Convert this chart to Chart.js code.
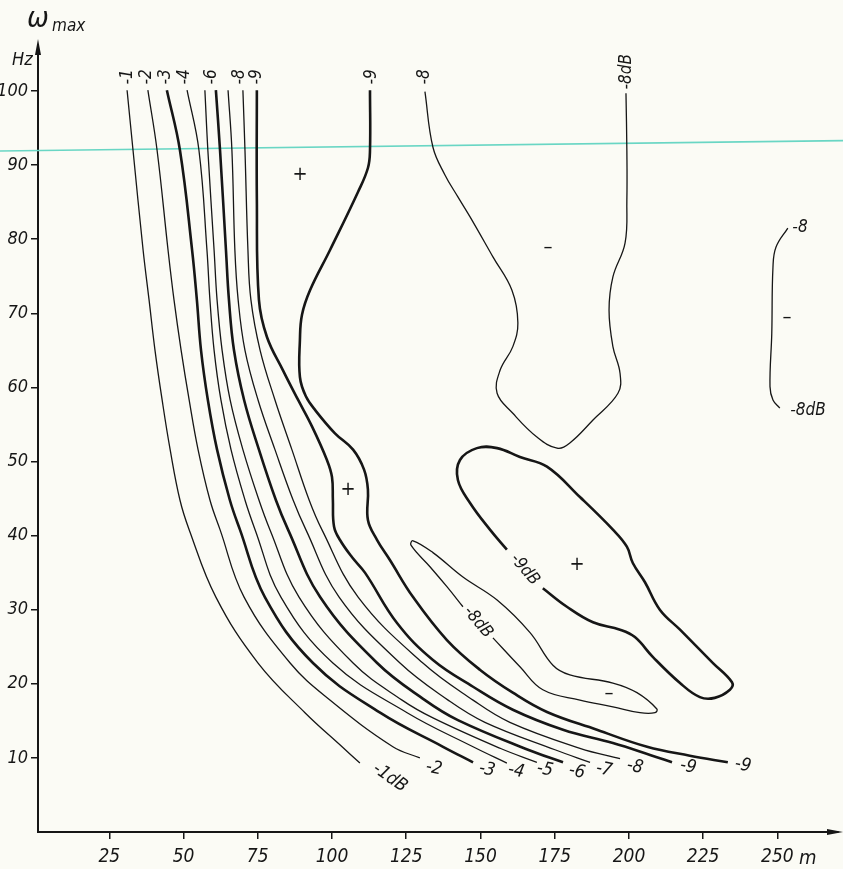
<!DOCTYPE html>
<html>
<head>
<meta charset="utf-8">
<title>omega max contours</title>
<script src="https://cdn.jsdelivr.net/npm/chart.js@4.4.1/dist/chart.umd.min.js"></script>
<style>
    html, body { margin: 0; padding: 0; background: #fbfbf5; }
    #wrap { width: 843px; height: 869px; }
</style>
</head>
<body>
<div id="wrap"><canvas id="contourChart" width="843" height="869"></canvas></div>
<script>
// axis ticks (x = distance in m, y = omega max in Hz)
const xTicks = [25, 50, 75, 100, 125, 150, 175, 200, 225, 250];
const yTicks = [10, 20, 30, 40, 50, 60, 70, 80, 90, 100];

// contour lines, [m, Hz] pairs
const line1 = [[31.0,100.1],[33.0,92.0],[36.4,78.5],[38.4,71.8],[40.4,65.0],[42.8,58.3],[45.5,51.6],[48.8,44.8],[51.9,40.8],[60.9,31.7],[75.1,22.8],[90.9,16.1],[103.4,11.5],[109.4,9.3]];
const line2 = [[38.0,100.1],[41.1,92.0],[44.8,78.5],[46.8,71.8],[49.2,65.0],[51.9,58.3],[54.9,51.6],[58.9,44.8],[62.3,40.8],[70.4,31.7],[85.9,22.8],[99.3,17.8],[120.5,11.5],[129.6,10.0]];
const line3 = [[44.4,100.1],[48.8,92.0],[52.9,78.5],[54.5,71.8],[55.9,65.0],[58.2,58.3],[61.3,51.6],[65.6,44.8],[69.0,40.8],[77.4,31.7],[93.6,22.8],[116.2,16.1],[137.4,11.5],[147.5,9.4]];
const line4 = [[51.2,100.1],[55.2,92.0],[57.9,78.5],[58.9,71.8],[60.3,65.0],[62.6,58.3],[66.0,51.6],[70.7,44.8],[74.1,40.8],[82.8,31.7],[100.3,22.8],[125.3,16.1],[147.5,11.5],[158.9,9.3]];
const line5 = [[57.2,100.1],[58.2,92.0],[60.3,78.5],[61.3,71.8],[63.0,65.0],[65.7,58.3],[70.0,51.6],[75.4,44.8],[79.1,40.8],[88.9,31.7],[107.1,22.8],[123.6,17.8],[134.0,15.4],[156.6,11.3],[169.0,9.4]];
const line6 = [[60.9,100.1],[62.3,92.0],[64.3,78.5],[65.3,71.8],[67.0,65.0],[70.4,58.3],[75.4,51.6],[81.1,44.8],[85.2,40.8],[96.0,31.7],[115.2,22.8],[131.3,17.8],[142.4,15.1],[166.0,11.1],[177.8,9.4]];
const line7 = [[65.0,100.1],[66.3,92.0],[67.3,78.5],[68.4,71.8],[70.7,65.0],[75.1,58.3],[80.8,51.6],[86.9,44.8],[91.2,40.8],[102.4,31.7],[122.9,22.8],[139.1,17.8],[151.5,14.8],[175.1,11.1],[186.9,9.4]];
const line8 = [[70.0,100.1],[70.7,92.0],[71.7,78.5],[72.7,71.8],[75.8,65.0],[80.8,58.3],[86.5,51.6],[92.3,44.8],[96.6,40.8],[108.8,31.7],[130.6,22.8],[147.5,17.8],[159.9,14.8],[183.5,11.3],[197.0,9.9]];
const line9a = [[74.7,100.1],[74.7,85.3],[75.4,71.8],[78.1,66.8],[83.5,62.3],[88.6,58.3],[93.3,54.7],[98.3,50.2],[100.0,47.9],[100.3,44.8],[100.7,41.2],[102.7,39.4],[106.7,37.1],[111.1,35.0],[121.9,28.2],[134.0,23.2],[147.5,19.6],[160.9,16.5],[177.8,13.8],[194.6,12.0],[207.1,10.4],[214.5,9.4]];
const line9b = [[112.8,100.1],[112.8,92.0],[112.1,89.6],[108.8,86.4],[99.3,78.5],[92.6,73.1],[89.9,69.8],[89.2,66.4],[89.2,61.4],[91.2,58.8],[94.6,56.8],[101.0,53.8],[107.1,51.6],[110.8,48.9],[112.1,46.2],[112.1,42.1],[115.2,39.4],[119.5,36.7],[127.3,31.7],[138.7,25.9],[149.8,21.9],[160.9,18.8],[172.4,16.2],[189.2,13.8],[206.1,11.5],[220.5,10.3],[233.3,9.4]];
const minus8Upper = [[131.3,99.9],[134.0,92.4],[138.0,88.7],[142.4,85.7],[146.5,83.0],[154.2,77.6],[160.6,73.1],[162.6,68.7],[160.9,65.5],[156.6,62.3],[155.6,59.2],[160.9,56.5],[169.0,53.3],[175.8,51.8],[180.1,52.5],[187.9,55.6],[196.3,59.2],[197.0,61.9],[194.6,65.5],[193.3,70.4],[194.6,74.9],[198.7,79.5],[199.3,85.3],[199.3,92.0],[199.0,99.7]];
const minus9Island = [[171.0,32.9],[179.1,30.4],[187.9,28.3],[197.0,27.3],[202.0,26.3],[208.1,23.6],[217.2,20.1],[223.9,18.2],[228.9,18.1],[234.0,19.2],[234.7,20.2],[228.3,22.8],[217.2,27.3],[210.4,30.0],[205.4,33.7],[201.3,36.3],[199.3,38.5],[194.6,40.8],[183.5,45.2],[172.4,49.3],[163.3,50.6],[155.6,51.8],[148.8,51.8],[143.1,50.2],[142.4,47.5],[146.5,44.4],[153.2,40.8],[158.9,38.1]];
const minus8Island = [[154.2,26.2],[163.3,22.3],[171.0,19.2],[183.5,17.8],[194.6,16.9],[203.7,16.1],[208.8,16.1],[209.4,16.6],[202.7,18.8],[194.6,20.1],[180.1,21.2],[174.4,22.5],[166.7,26.9],[155.6,31.3],[144.1,34.4],[134.0,37.7],[127.3,39.3],[126.6,38.7],[133.0,35.8],[138.7,33.1],[144.1,30.4]];
const minus8Right = [[253.5,81.5],[249.5,78.9],[248.5,76.2],[248.1,67.3],[247.5,60.1],[248.5,58.3],[250.8,57.2]];
// the green pen stroke across the scan
const penStroke = [[-11.8,91.9],[272.1,93.3]];

// labels written on the drawing: [text, m, Hz]
const topLabels = [['-1',31.0,101.9],['-2',37.7,101.9],['-3',44.1,101.9],['-4',50.2,101.9],['-6',59.6,101.9],['-8',69.0,101.9],['-9',74.7,101.9],['-9',113.5,101.9],['-8',131.3,101.9],['-8dB',199.3,102.6]];
const endLabels = [['-1dB',119.5,7.3],['-2',134.3,8.6],['-3',152.2,8.4],['-4',162.0,8.2],['-5',171.7,8.4],['-6',182.5,8.1],['-7',191.6,8.4],['-8',202.0,8.8],['-9',219.9,8.8],['-9',238.4,9.0]];
const islandLabels = [['-9dB',164.9,35.4],['-8dB',149.2,28.3]];
const sideLabels = [['-8',257.6,81.5],['-8dB',260.3,56.9]];
const signs = [['+',89.2,88.7],['\u2013',172.7,78.8],['+',105.4,46.2],['+',182.5,36.0],['\u2013',193.3,18.6],['\u2013',253.2,69.4]];

const ink = '#161616';
const thin = 1.3;
const thick = 2.6;
const italicFont = "'Liberation Sans Narrow', 'DejaVu Sans Condensed', 'Liberation Sans', sans-serif";

function toPoints(arr) {
    return arr.map(p => ({ x: p[0], y: p[1] }));
}

function contour(arr, width) {
    return {
        data: toPoints(arr),
        showLine: true,
        borderColor: ink,
        borderWidth: width,
        pointRadius: 0,
        tension: 0.4,
        fill: false
    };
}

const datasets = [
    contour(line1, thin),
    contour(line2, thin),
    contour(line3, thick),
    contour(line4, thin),
    contour(line5, thin),
    contour(line6, thick),
    contour(line7, thin),
    contour(line8, thin),
    contour(line9a, thick),
    contour(line9b, thick),
    contour(minus8Upper, thin),
    contour(minus9Island, thick),
    contour(minus8Island, thin),
    contour(minus8Right, thin),
    {
        data: toPoints(penStroke),
        showLine: true,
        borderColor: 'rgb(105, 214, 196)',
        borderWidth: 1.6,
        pointRadius: 0,
        clip: false
    }
];

function drawText(ctx, text, x, y, angle, font) {
    ctx.save();
    ctx.translate(x, y);
    ctx.rotate(angle * Math.PI / 180);
    ctx.font = font;
    ctx.textAlign = 'center';
    ctx.textBaseline = 'middle';
    ctx.fillText(text, 0, 0);
    ctx.restore();
}

const paper = {
    id: 'paper',
    beforeDraw(chart) {
        const ctx = chart.ctx;
        ctx.save();
        ctx.fillStyle = '#fbfbf5';
        ctx.fillRect(0, 0, chart.width, chart.height);
        ctx.restore();
    }
};

const annotations = {
    id: 'annotations',
    afterDraw(chart) {
        const ctx = chart.ctx;
        const xs = chart.scales.x;
        const ys = chart.scales.y;
        const area = chart.chartArea;
        const px = v => xs.getPixelForValue(v);
        const py = v => ys.getPixelForValue(v);

        ctx.save();
        ctx.fillStyle = ink;

        // axis arrow heads
        ctx.beginPath();
        ctx.moveTo(area.left, area.top - 6);
        ctx.lineTo(area.left - 3, area.top + 10);
        ctx.lineTo(area.left + 3, area.top + 10);
        ctx.closePath();
        ctx.fill();
        ctx.beginPath();
        ctx.moveTo(area.right + 5, area.bottom);
        ctx.lineTo(area.right - 11, area.bottom - 3);
        ctx.lineTo(area.right - 11, area.bottom + 3);
        ctx.closePath();
        ctx.fill();

        // axis names
        ctx.textAlign = 'left';
        ctx.textBaseline = 'alphabetic';
        ctx.font = 'italic 29px ' + italicFont;
        ctx.fillText('\u03c9', 27, 27);
        ctx.font = 'italic 17px ' + italicFont;
        ctx.fillText('max', 52, 31);
        ctx.font = 'italic 18px ' + italicFont;
        ctx.fillText('Hz', 12, 65);
        ctx.font = 'italic 20px ' + italicFont;
        ctx.fillText('m', 799, 864);

        const labelFont = 'italic 17px ' + italicFont;
        topLabels.forEach(l => drawText(ctx, l[0], px(l[1]), py(l[2]), -90, labelFont));
        endLabels.forEach((l, i) => drawText(ctx, l[0], px(l[1]), py(l[2]), i === 0 ? 35 : 12, 'italic 18px ' + italicFont));
        islandLabels.forEach(l => drawText(ctx, l[0], px(l[1]), py(l[2]), 50, labelFont));
        sideLabels.forEach(l => drawText(ctx, l[0], px(l[1]), py(l[2]), 0, labelFont));
        signs.forEach(s => drawText(ctx, s[0], px(s[1]), py(s[2]), 0, '20px ' + italicFont));
        ctx.restore();
    }
};

function renderChart() {
    const ctx = document.getElementById('contourChart').getContext('2d');
    new Chart(ctx, {
        type: 'scatter',
        data: { datasets: datasets },
        options: {
            responsive: false,
            animation: false,
            layout: { padding: { top: 45, right: 5, left: 0, bottom: 0 } },
            plugins: {
                legend: { display: false },
                tooltip: { enabled: false }
            },
            scales: {
                x: {
                    type: 'linear',
                    min: 1,
                    max: 270.4,
                    afterBuildTicks: axis => { axis.ticks = xTicks.map(v => ({ value: v })); },
                    afterFit: axis => { axis.height = 37; },
                    ticks: {
                        autoSkip: false,
                        maxRotation: 0,
                        padding: 7,
                        color: ink,
                        font: { family: italicFont, size: 19, style: 'italic' }
                    },
                    grid: { drawOnChartArea: false, drawTicks: true, tickLength: 7, color: ink, lineWidth: 1.5 },
                    border: { display: true, color: ink, width: 2 }
                },
                y: {
                    type: 'linear',
                    min: 0,
                    max: 106.2,
                    afterBuildTicks: axis => { axis.ticks = yTicks.map(v => ({ value: v })); },
                    afterFit: axis => { axis.width = 38; },
                    ticks: {
                        autoSkip: false,
                        padding: 3,
                        color: ink,
                        font: { family: italicFont, size: 18, style: 'italic' }
                    },
                    grid: { drawOnChartArea: false, drawTicks: true, tickLength: 7, color: ink, lineWidth: 1.5 },
                    border: { display: true, color: ink, width: 2 }
                }
            }
        },
        plugins: [paper, annotations]
    });
}

document.addEventListener('DOMContentLoaded', renderChart);
</script>
</body>
</html>
